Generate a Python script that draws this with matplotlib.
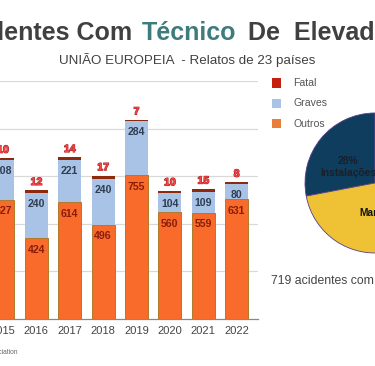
import matplotlib
matplotlib.use("Agg")
import matplotlib.pyplot as plt
import matplotlib.patheffects as pe
import numpy as np

years = ["2015", "2016", "2017", "2018", "2019", "2020", "2021", "2022"]
outros = [627, 424, 614, 496, 755, 560, 559, 631]
graves = [208, 240, 221, 240, 284, 104, 109, 80]
fatal = [10, 12, 14, 17, 7, 10, 15, 8]

pie_labels = ["28%\nInstalações", "Manutenção", "Modernização", "Outros"]
pie_values = [28, 50, 14, 8]

C_OUT = "#F96B2A"
C_GRA = "#A8C3E6"
C_FAT = "#8E2A0C"
C_OUT_EDGE = "#B07A2A"

W, H = 375, 366
fig = plt.figure(figsize=(W / 100, H / 100), dpi=100)
fig.patch.set_facecolor("white")
plt.rcParams["font.family"] = ["Liberation Sans", "DejaVu Sans"]

# ---- bar axes ----
ax = fig.add_axes([-18.4 / W, 47 / H, 276.4 / W, 238 / H])
x = np.arange(len(years))
bw = 0.69
ax.bar(x, outros, bw, color=C_OUT, edgecolor=C_OUT_EDGE, linewidth=0.7, zorder=3)
ax.bar(x, graves, bw, bottom=outros, color=C_GRA, linewidth=0, zorder=3)
bot3 = [o + g for o, g in zip(outros, graves)]
ax.bar(x, fatal, bw, bottom=bot3, color=C_FAT, linewidth=0, zorder=3)

ax.set_xlim(-0.64, 7.64)
ax.set_ylim(0, 1250)
ax.set_yticks([250, 500, 750, 1000, 1250])
ax.yaxis.grid(True, color="#D9D9D9", linewidth=0.9, zorder=0)
ax.set_axisbelow(True)
ax.tick_params(axis="y", length=0, labelleft=False)
ax.tick_params(axis="x", length=0, labelsize=8, labelcolor="#444444", pad=5)
ax.set_xticks(x)
ax.set_xticklabels(years)
for s in ["top", "right", "left"]:
    ax.spines[s].set_visible(False)
ax.spines["bottom"].set_color("#888888")
ax.spines["bottom"].set_linewidth(0.9)

for i in range(len(years)):
    ax.annotate(str(outros[i]), (x[i], outros[i]), xytext=(0, -8.5), textcoords="offset points",
                ha="center", va="center", fontsize=7.6, fontweight="bold", color="#8A1C0A", zorder=5)
    ax.annotate(str(graves[i]), (x[i], outros[i] + graves[i]), xytext=(0, -8), textcoords="offset points",
                ha="center", va="center", fontsize=7.6, fontweight="bold", color="#2E3D50", zorder=5)
    t = ax.annotate(str(fatal[i]), (x[i], bot3[i] + fatal[i]), xytext=(0, 6), textcoords="offset points",
                    ha="center", va="center", fontsize=7.6, fontweight="bold", color="#F24848", zorder=5)
    t.set_path_effects([pe.withStroke(linewidth=0.8, foreground="#B02020")])

# ---- legend ----
leg_items = [("Fatal", "#C42010"), ("Graves", C_GRA), ("Outros", "#E87E3A")]
for k, (lab, col) in enumerate(leg_items):
    yy = 1 - (83 + 20.5 * k) / H
    fig.patches.append(plt.Rectangle((272 / W, yy - 4.5 / H), 9 / W, 9 / H, transform=fig.transFigure,
                                     facecolor=col, edgecolor="none"))
    fig.text(293 / W, yy, lab, fontsize=7.6, color="#555555", va="center", ha="left")

# ---- pie ----
pax = fig.add_axes([305 / W, (H - 183 - 70) / H, 140 / W, 140 / H])
pax.pie(pie_values, startangle=90, counterclock=True,
        colors=["#0E3D5E", "#EEC234", "#7FB24A", "#C0504D"],
        wedgeprops=dict(edgecolor="#5A3E8A", linewidth=0.6))
pax.set_aspect("equal")
pax.set_xlim(-1, 1)
pax.set_ylim(-1, 1)
pax.axis("off")
fig.text(348 / W, 1 - 167 / H, pie_labels[0], ha="center", va="center", fontsize=7.4,
         fontweight="bold", color="#1A1F2A", linespacing=1.15,
         family=["Liberation Sans Narrow", "Liberation Sans", "DejaVu Sans"])
fig.text(359 / W, 1 - 213 / H, pie_labels[1], ha="left", va="center", fontsize=7.4,
         fontweight="bold", color="#111111",
         family=["Liberation Sans Narrow", "Liberation Sans", "DejaVu Sans"])

fig.text(271 / W, 1 - 281 / H, "719 acidentes com técnicos", fontsize=8.8, color="#444444",
         ha="left", va="center")

# ---- titles ----
ty = 1 - 33 / H
fig.text(132 / W, ty, "Acidentes Com", fontsize=18, fontweight="bold", color="#404040", ha="right", va="center")
fig.text(142 / W, ty, "Técnico", fontsize=18, fontweight="bold", color="#3E7C7C", ha="left", va="center")
fig.text(248 / W, ty, "De  Elevadores", fontsize=18, fontweight="bold", color="#404040", ha="left", va="center")
fig.text(187 / W, 1 - 60 / H, "UNIÃO EUROPEIA  - Relatos de 23 países", fontsize=9.6, color="#404040",
         ha="center", va="center")

fig.text(17 / W, 1 - 352 / H, "Fonte: ELA - European Lift Association", fontsize=4.8, color="#666666",
         ha="right", va="center")

fig.savefig("out.png", dpi=100, facecolor="white")
